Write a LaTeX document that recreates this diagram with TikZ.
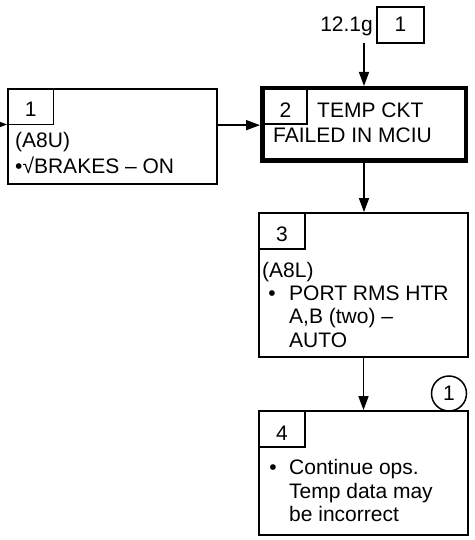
\documentclass[tikz,border=0pt]{standalone}
\usepackage{fontspec}
\setmainfont{Liberation Sans}
\usetikzlibrary{arrows.meta}
\begin{document}
\begin{tikzpicture}[x=1pt,y=-1pt,
  box/.style={draw, line width=1.8pt, rectangle, inner sep=0pt},
  cell/.style={draw, line width=1.3pt, rectangle, inner sep=0pt},
  txt/.style={inner sep=0pt, anchor=base west, font=\fontsize{21}{23.5}\selectfont},
  num/.style={inner sep=0pt, anchor=base, font=\fontsize{21}{23.5}\selectfont},
  arr/.style={line width=1.6pt, -{Triangle[length=14pt,width=10pt]}}]
\useasboundingbox (0,0) rectangle (474,540);
\clip (0,0) rectangle (474,540);
% boxes
\node[box, minimum width=209pt, minimum height=95pt] (b1) at (112.5,136.5) {};
\node[box, line width=4.5pt, minimum width=203.5pt, minimum height=72.5pt] (b2) at (364,124.5) {};
\node[box, minimum width=209pt, minimum height=144pt] (b3) at (363.5,285) {};
\node[box, minimum width=209pt, minimum height=124pt] (b4) at (363.5,473) {};
% number cells
\node[cell, minimum width=45.5pt, minimum height=35.5pt] (c1) at (30.75,106.75) {};
\node[cell, minimum width=44.75pt, minimum height=35.75pt] (c2) at (284.6,106.1) {};
\node[cell, minimum width=46pt, minimum height=36pt] (c3) at (282,231) {};
\node[cell, minimum width=46pt, minimum height=36pt] (c4) at (282,429) {};
\node[num] (n1) at (30.75,117) {1};
\node[num] (n2) at (285.5,118) {2};
\node[num] (n3) at (282,241) {3};
\node[num] (n4) at (282,440) {4};
% top reference
\node[txt, anchor=base east] (g) at (373,32) {12.1g};
\node[cell, line width=1.5pt, minimum width=47pt, minimum height=36pt] (tb) at (400.5,25) {};
\node[num] (tn) at (400.5,32) {1};
\coordinate (ts) at (364,43);
% circled note
\node[draw, circle, line width=1.5pt, minimum size=35pt, inner sep=0pt,
      font=\fontsize{21}{23.5}\selectfont] (circ) at (449,393.5) {1};
% texts box 1
\node[txt] (t1a) at (15,148) {(A8U)};
\node[txt] (t1b) at (15,174) {•√BRAKES – ON};
% box 2
\node[txt] (t2a) at (317,118) {TEMP CKT};
\node[txt] (t2b) at (273,143) {FAILED IN MCIU};
% box 3
\node[txt] (t3a) at (262,277) {(A8L)};
\node[num] (t3bul) at (272,300) {•};
\node[txt] (t3b) at (289,300) {PORT RMS HTR};
\node[txt] (t3c) at (289,323) {A,B (two) –};
\node[txt] (t3d) at (289,347) {AUTO};
% box 4
\node[num] (t4bul) at (273,474) {•};
\node[txt] (t4a) at (289,474) {Continue ops.};
\node[txt] (t4b) at (289,498) {Temp data may};
\node[txt] (t4c) at (289,521) {be incorrect};
% connectors
\coordinate (lin) at (-20,124.5);
\draw[arr] (lin) -- (b1.west |- lin);
\draw[arr] (b1.east |- c1.south) -- (b2.west |- c1.south);
\draw[arr] (ts) -- (b2.north);
\draw[arr] (b2.south) -- (b2.south |- b3.north);
\draw[arr] (b3.south) -- (b3.south |- b4.north);
\end{tikzpicture}
\end{document}
